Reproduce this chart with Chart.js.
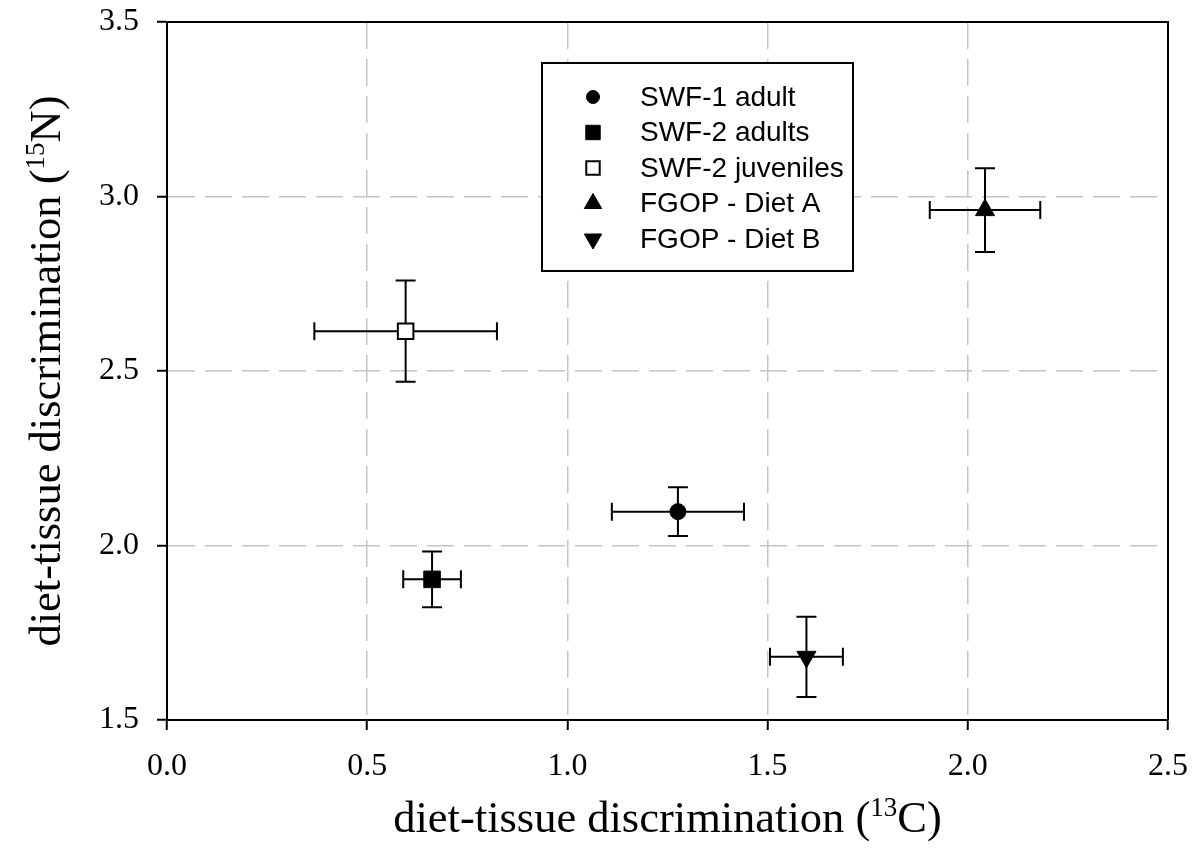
<!DOCTYPE html>
<html>
<head>
<meta charset="utf-8">
<script src="https://cdn.jsdelivr.net/npm/chart.js@4/dist/chart.umd.min.js"></script>
<style>
  body { margin: 0; background: #fff; }
  #wrap { width: 1192px; height: 863px; }
</style>
</head>
<body>
<div id="wrap"><canvas id="myChart"></canvas></div>
<script>
// groups and their values
var categories = ['SWF-1 adult', 'SWF-2 adults', 'SWF-2 juveniles', 'FGOP - Diet A', 'FGOP - Diet B'];
var c13 = [1.276, 0.662, 0.596, 2.043, 1.597];
var n15 = [2.097, 1.903, 2.614, 2.961, 1.681];
var c13Err = [0.165, 0.072, 0.228, 0.138, 0.091];
var n15Err = [0.07, 0.08, 0.145, 0.12, 0.115];
var xTickLabels = ['0.0', '0.5', '1.0', '1.5', '2.0', '2.5'];
var yTickLabels = ['1.5', '2.0', '2.5', '3.0', '3.5'];

var markers = [
  { style: 'circle', radius: 8, rotation: 0, fill: '#000', border: 1 },
  { style: 'rect', radius: 11.7, rotation: 0, fill: '#000', border: 1 },
  { style: 'rect', radius: 11, rotation: 0, fill: '#fff', border: 2 },
  { style: 'triangle', radius: 11, rotation: 0, fill: '#000', border: 1 },
  { style: 'triangle', radius: 11, rotation: 180, fill: '#000', border: 1 }
];

var serif = "'Liberation Serif', 'Times New Roman', serif";
var sans = "'Liberation Sans', Arial, sans-serif";

var datasets = categories.map(function (name, i) {
  return {
    label: name,
    data: [{ x: c13[i], y: n15[i] }],
    pointStyle: markers[i].style,
    pointRadius: markers[i].radius,
    pointRotation: markers[i].rotation,
    pointBackgroundColor: markers[i].fill,
    pointBorderColor: '#000',
    pointBorderWidth: markers[i].border
  };
});

// error bars in both directions
var errorBars = {
  id: 'errorBars',
  beforeDatasetsDraw: function (chart) {
    var ctx = chart.ctx, xs = chart.scales.x, ys = chart.scales.y;
    ctx.save();
    ctx.strokeStyle = '#000';
    ctx.lineWidth = 2;
    categories.forEach(function (c, i) {
      var px = xs.getPixelForValue(c13[i]);
      var py = ys.getPixelForValue(n15[i]);
      var xl = xs.getPixelForValue(c13[i] - c13Err[i]);
      var xr = xs.getPixelForValue(c13[i] + c13Err[i]);
      var yt = ys.getPixelForValue(n15[i] + n15Err[i]);
      var yb = ys.getPixelForValue(n15[i] - n15Err[i]);
      ctx.beginPath();
      ctx.moveTo(xl, py); ctx.lineTo(xr, py);
      ctx.moveTo(xl, py - 9); ctx.lineTo(xl, py + 9);
      ctx.moveTo(xr, py - 9); ctx.lineTo(xr, py + 9);
      ctx.moveTo(px, yt); ctx.lineTo(px, yb);
      ctx.moveTo(px - 10, yt); ctx.lineTo(px + 10, yt);
      ctx.moveTo(px - 10, yb); ctx.lineTo(px + 10, yb);
      ctx.stroke();
    });
    ctx.restore();
  }
};

// top/right frame, legend box and axis titles with superscripts
var extras = {
  id: 'extras',
  afterDatasetsDraw: function (chart) {
    var ctx = chart.ctx, a = chart.chartArea;
    ctx.save();
    ctx.strokeStyle = '#000';
    ctx.lineWidth = 2;
    ctx.beginPath();
    ctx.moveTo(a.left, a.top); ctx.lineTo(a.right, a.top); ctx.lineTo(a.right, a.bottom);
    ctx.stroke();

    // legend
    var lx = a.left + 375, ly = a.top + 41, lw = 311, lh = 208;
    ctx.fillStyle = '#fff';
    ctx.fillRect(lx, ly, lw, lh);
    ctx.strokeRect(lx, ly, lw, lh);
    ctx.font = '28px ' + sans;
    ctx.textBaseline = 'middle';
    categories.forEach(function (name, i) {
      var ry = ly + 34 + i * 35.5;
      var m = markers[i];
      ctx.fillStyle = m.fill;
      ctx.strokeStyle = '#000';
      ctx.lineWidth = m.border;
      Chart.helpers.drawPoint(ctx, {
        pointStyle: m.style,
        radius: m.radius - (m.style === 'triangle' ? 1 : 1.5),
        rotation: m.rotation,
        borderWidth: m.border
      }, lx + 51, ry);
      ctx.fillStyle = '#000';
      ctx.textAlign = 'left';
      ctx.fillText(name, lx + 98, ry + 1);
    });

    // axis titles
    function titleParts(parts) {
      var w = 0;
      parts.forEach(function (p) { ctx.font = p.size + 'px ' + serif; p.w = ctx.measureText(p.t).width; w += p.w; });
      return w;
    }
    function drawParts(parts, x0, base) {
      var x = x0;
      parts.forEach(function (p) {
        ctx.font = p.size + 'px ' + serif;
        ctx.fillText(p.t, x, base - p.rise);
        x += p.w;
      });
    }
    ctx.fillStyle = '#000';
    ctx.textAlign = 'left';
    ctx.textBaseline = 'alphabetic';
    var xt = [{ t: 'diet-tissue discrimination (', size: 44.5, rise: 0 }, { t: '13', size: 27, rise: 16 }, { t: 'C)', size: 44.5, rise: 0 }];
    var xw = titleParts(xt);
    drawParts(xt, (a.left + a.right) / 2 - xw / 2, 832);

    var yt = [{ t: 'diet-tissue discrimination (', size: 44.5, rise: 0 }, { t: '15', size: 27, rise: 16 }, { t: 'N)', size: 44.5, rise: 0 }];
    var yw = titleParts(yt);
    ctx.translate(60, (a.top + a.bottom) / 2);
    ctx.rotate(-Math.PI / 2);
    drawParts(yt, -yw / 2, 0);
    ctx.restore();
  }
};

var ctx = document.getElementById('myChart').getContext('2d');
var myChart = new Chart(ctx, {
  type: 'scatter',
  data: { datasets: datasets },
  options: {
    responsive: true,
    maintainAspectRatio: false,
    animation: false,
    layout: { padding: { top: 22, right: 24, left: 0, bottom: 0 } },
    plugins: {
      legend: { display: false },
      tooltip: { enabled: false }
    },
    scales: {
      x: {
        type: 'linear',
        min: 0, max: 2.5,
        afterFit: function (s) { s.height = 143; s.paddingLeft = 0; s.paddingRight = 0; },
        grid: {
          color: '#c4c4c4', lineWidth: 1.5,
          drawTicks: true, tickLength: 10, tickColor: '#000', tickWidth: 2, tickBorderDash: []
        },
        border: { color: '#000', width: 2, dash: [27, 10] },
        ticks: {
          stepSize: 0.5, padding: 17, color: '#000',
          font: { family: serif, size: 32 },
          maxRotation: 0,
          callback: function (v) { return xTickLabels[Math.round(v / 0.5)]; }
        }
      },
      y: {
        type: 'linear',
        min: 1.5, max: 3.5,
        afterFit: function (s) { s.width = 167; s.paddingTop = 0; s.paddingBottom = 0; },
        grid: {
          color: '#c4c4c4', lineWidth: 1.5,
          drawTicks: true, tickLength: 10, tickColor: '#000', tickWidth: 2, tickBorderDash: []
        },
        border: { color: '#000', width: 2, dash: [27, 10] },
        ticks: {
          stepSize: 0.5, padding: 18, color: '#000',
          font: { family: serif, size: 32 },
          callback: function (v) { return yTickLabels[Math.round((v - 1.5) / 0.5)]; }
        }
      }
    }
  },
  plugins: [errorBars, extras]
});
</script>
</body>
</html>
